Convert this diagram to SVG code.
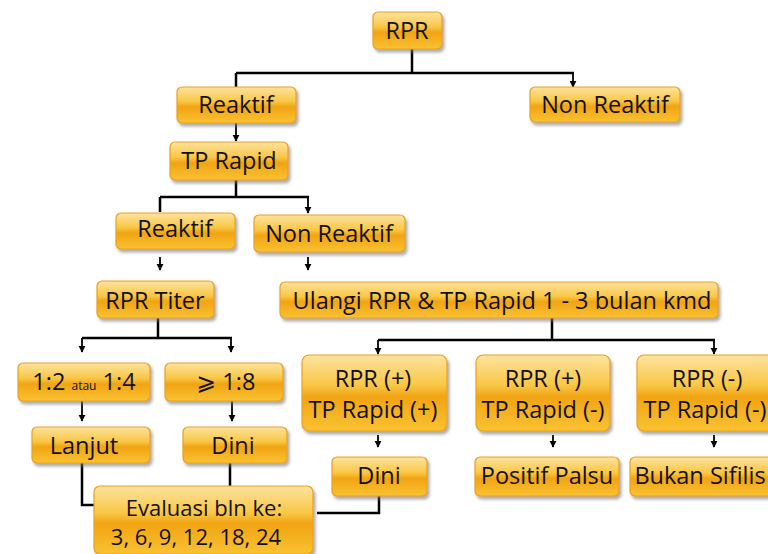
<svg xmlns="http://www.w3.org/2000/svg" width="768" height="554" viewBox="0 0 768 554">
<defs>
<linearGradient id="g" x1="0" y1="0" x2="0" y2="1">
<stop offset="0" stop-color="#fde3a0"/>
<stop offset="0.4" stop-color="#f9c744"/>
<stop offset="0.55" stop-color="#f1a414"/>
<stop offset="1" stop-color="#f9c232"/>
</linearGradient>
<filter id="sh" x="-10%" y="-10%" width="125%" height="140%">
<feDropShadow dx="2" dy="3" stdDeviation="1.5" flood-color="#777" flood-opacity="0.6"/>
</filter>
<marker id="ah" viewBox="0 0 10 10" refX="9" refY="5" markerWidth="4" markerHeight="4" orient="auto">
<path d="M0,0 L10,5 L0,10 z" fill="#000"/>
</marker>
</defs>
<style>
.b{fill:url(#g);stroke:#e9a21a;stroke-width:1.2;filter:url(#sh)}
.t{font-family:"Open Sans","Noto Sans","DejaVu Sans",sans-serif;font-size:23.5px;fill:#111;text-anchor:middle}
.e{font-size:22px}
.c{fill:none;stroke:#000;stroke-width:2.5}
.a{fill:none;stroke:#000;stroke-width:1.8;marker-end:url(#ah)}
</style>
<g id="connectors">
<path class="c" d="M412,49 V73 M236,73 H574 M236,73 V88"/>
<path class="a" d="M573,73 V87"/>
<path class="a" d="M236,123 V141"/>
<path class="c" d="M236,180 V197 M160,197 H309 M160,197 V212"/>
<path class="a" d="M308,197 V213"/>
<path class="a" d="M160,257 V270"/>
<path class="a" d="M308,257 V270"/>
<path class="c" d="M158,318 V338 M82,338 H232"/>
<path class="a" d="M82,338 V352"/>
<path class="a" d="M231,338 V352"/>
<path class="a" d="M82,401 V421"/>
<path class="a" d="M232,401 V421"/>
<path class="c" d="M82,463 V505 H95"/>
<path class="c" d="M230,463 V486"/>
<path class="c" d="M552,318 V340 M378,340 H715"/>
<path class="a" d="M378,340 V354"/>
<path class="a" d="M714,340 V354"/>
<path class="a" d="M378,435 V447"/>
<path class="a" d="M553,435 V447"/>
<path class="a" d="M714,435 V447"/>
<path class="c" d="M379,496 V513 H317"/>
</g>
<g id="n-rpr"><rect class="b" x="373" y="12" width="69" height="37" rx="5"/><text class="t" x="407" y="39">RPR</text></g>
<g id="n-reaktif1"><rect class="b" x="177" y="87" width="119" height="36" rx="5"/><text class="t" x="236" y="113">Reaktif</text></g>
<g id="n-nonreaktif1"><rect class="b" x="530" y="87" width="150" height="35" rx="5"/><text class="t" x="605" y="113">Non Reaktif</text></g>
<g id="n-tprapid"><rect class="b" x="170" y="142" width="118" height="38" rx="5"/><text class="t" x="229" y="169">TP Rapid</text></g>
<g id="n-reaktif2"><rect class="b" x="116" y="213" width="119" height="36" rx="5"/><text class="t" x="175" y="237">Reaktif</text></g>
<g id="n-nonreaktif2"><rect class="b" x="254" y="215" width="151" height="37" rx="5"/><text class="t" x="329" y="242">Non Reaktif</text></g>
<g id="n-rprtiter"><rect class="b" x="97" y="281" width="117" height="37" rx="5"/><text class="t" x="155" y="309">RPR Titer</text></g>
<g id="n-ulangi"><rect class="b" x="280" y="282" width="438" height="36" rx="5"/><text class="t" x="502" y="309">Ulangi RPR &amp; TP Rapid 1 - 3 bulan kmd</text></g>
<g id="n-12"><rect class="b" x="18" y="363" width="132" height="38" rx="5"/><text class="t" x="84" y="390">1:2 <tspan font-size="12">atau</tspan> 1:4</text></g>
<g id="n-18"><rect class="b" x="165" y="363" width="118" height="38" rx="5"/><text class="t" x="226" y="390">⩾ 1:8</text></g>
<g id="n-lanjut"><rect class="b" x="32" y="427" width="118" height="36" rx="5"/><text class="t" x="84" y="454">Lanjut</text></g>
<g id="n-dini1"><rect class="b" x="183" y="427" width="104" height="36" rx="5"/><text class="t" x="233" y="454">Dini</text></g>
<g id="n-evaluasi"><rect class="b" x="94" y="486" width="219" height="68" rx="6"/><text class="t e" x="204" y="516">Evaluasi bln ke:</text><text class="t e" x="196" y="545">3, 6, 9, 12, 18, 24</text></g>
<g id="n-pp"><rect class="b" x="302" y="355" width="145" height="76" rx="7"/><text class="t" x="373" y="387">RPR (+)</text><text class="t" x="373" y="418">TP Rapid (+)</text></g>
<g id="n-pm"><rect class="b" x="476" y="355" width="134" height="76" rx="7"/><text class="t" x="543" y="387">RPR (+)</text><text class="t" x="543" y="418">TP Rapid (-)</text></g>
<g id="n-mm"><rect class="b" x="637" y="355" width="145" height="76" rx="7"/><text class="t" x="707" y="387">RPR (-)</text><text class="t" x="705" y="418" font-size="22.5">TP Rapid (-)</text></g>
<g id="n-dini2"><rect class="b" x="332" y="457" width="95" height="39" rx="5"/><text class="t" x="379" y="484">Dini</text></g>
<g id="n-positifpalsu"><rect class="b" x="475" y="457" width="144" height="39" rx="5"/><text class="t" x="547" y="484">Positif Palsu</text></g>
<g id="n-bukansifilis"><rect class="b" x="630" y="457" width="150" height="39" rx="5"/><text class="t" x="700" y="484" font-size="21.5">Bukan Sifilis</text></g>
</svg>
